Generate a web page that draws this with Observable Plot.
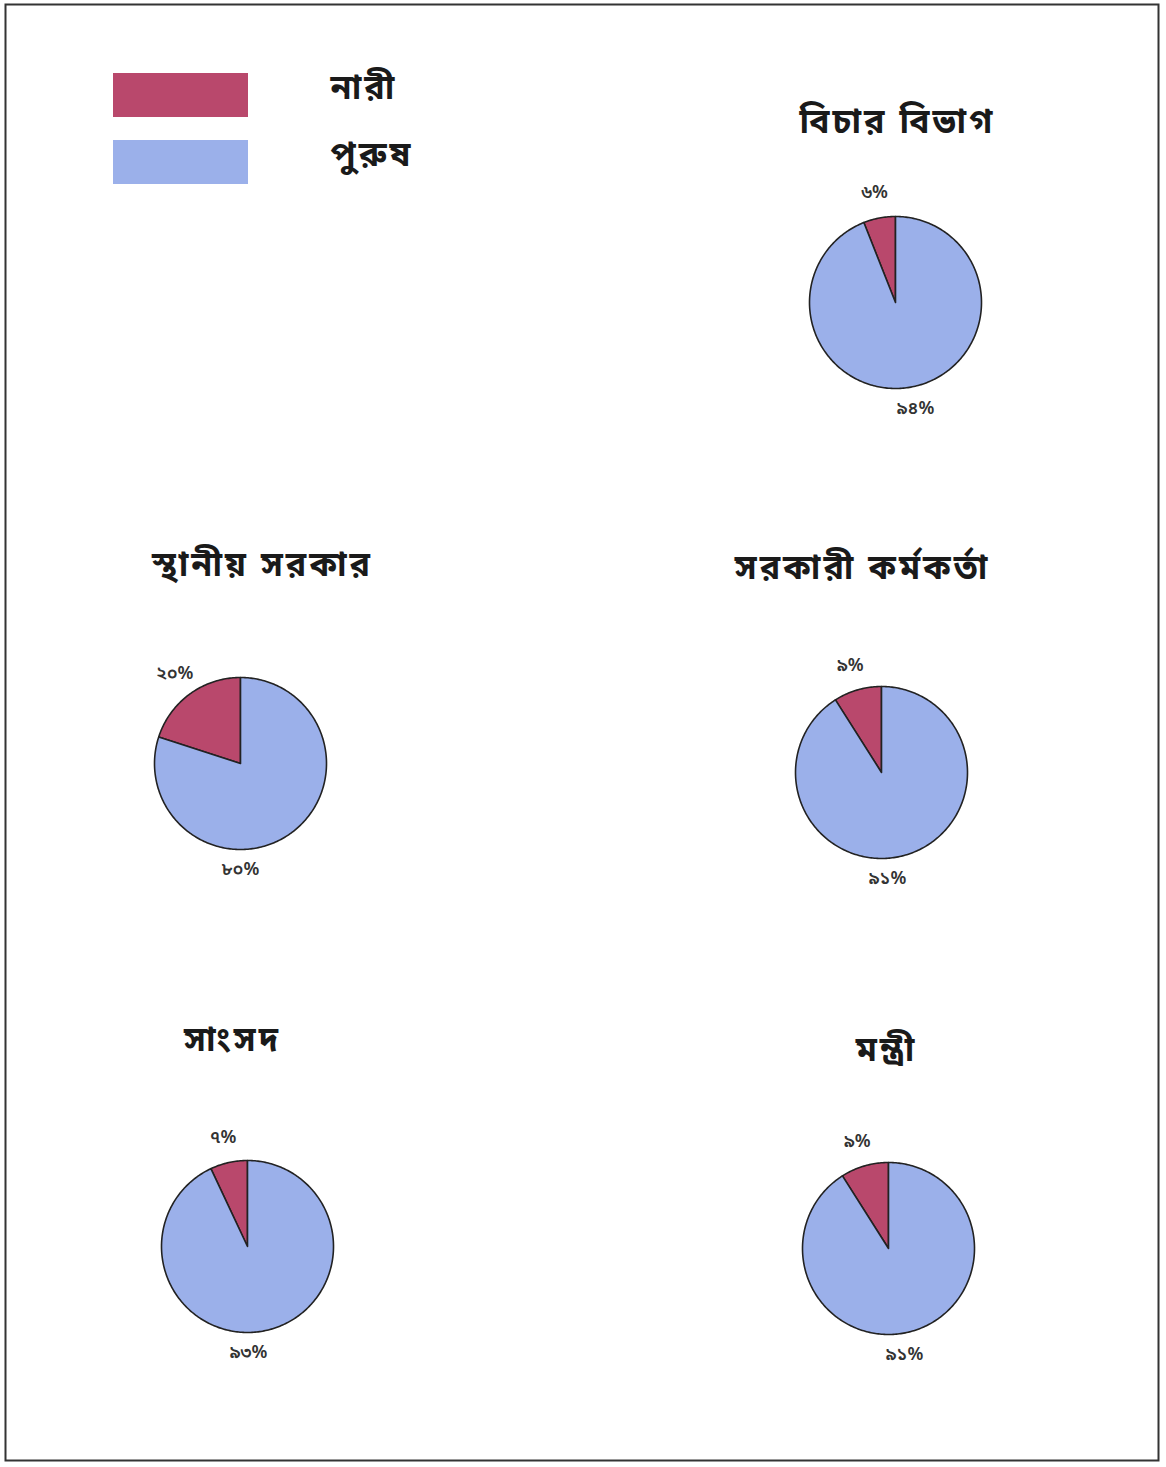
<!DOCTYPE html>
<html>
<head>
<meta charset="utf-8">
<script src="https://cdn.jsdelivr.net/npm/d3@7"></script>
<script src="https://cdn.jsdelivr.net/npm/@observablehq/plot@0.6"></script>
<style>
  html, body { margin: 0; padding: 0; background: #fff; }
  #chart svg { display: block; }
  .ttl text { letter-spacing: 3px; }
  .lgd text { letter-spacing: 3px; }
</style>
</head>
<body>
<div id="chart"></div>
<script>
// ---- data ----
const categories = ["বিচার বিভাগ", "স্থানীয় সরকার", "সরকারী কর্মকর্তা", "সাংসদ", "মন্ত্রী"];
const women = [6, 20, 9, 7, 9];
const men = [94, 80, 91, 93, 91];
const womenLabels = ["৬%", "২০%", "৯%", "৭%", "৯%"];
const menLabels = ["৯৪%", "৮০%", "৯১%", "৯৩%", "৯১%"];
const seriesNames = ["নারী", "পুরুষ"];
const seriesColors = ["#b9486c", "#9bb0ea"];

// ---- layout (page units = pixels) ----
const W = 1166, H = 1467, R = 86;
const layout = [
  {cx: 895, cy: 302, tx: 897, ty: 122, mdx: 20},
  {cx: 240, cy: 763, tx: 262, ty: 565, mdx: 0},
  {cx: 881, cy: 772, tx: 862, ty: 568, mdx: 6},
  {cx: 247, cy: 1246, tx: 232, ty: 1040, mdx: 1},
  {cx: 888, cy: 1248, tx: 886, ty: 1050, mdx: 16}
];
const legendLayout = [
  {x1: 113, x2: 248, y1: 73, y2: 117, tx: 330, ty: 88},
  {x1: 113, x2: 248, y1: 140, y2: 184, tx: 330, ty: 155}
];

// ---- build wedges ----
const wedgePts = [];
const labels = [];
categories.forEach((cat, i) => {
  const {cx, cy, mdx} = layout[i];
  const total = women[i] + men[i];
  const a = women[i] / total * 2 * Math.PI; // women angle, counterclockwise from 12 o'clock
  const slices = [
    {key: cat + "-w", s: seriesNames[0], t0: -a, t1: 0},
    {key: cat + "-m", s: seriesNames[1], t0: 0, t1: 2 * Math.PI - a}
  ];
  for (const sl of slices) {
    wedgePts.push({key: sl.key, s: sl.s, x: cx, y: cy});
    const n = Math.max(2, Math.ceil((sl.t1 - sl.t0) / (Math.PI / 180)));
    for (let k = 0; k <= n; k++) {
      const t = sl.t0 + (sl.t1 - sl.t0) * k / n;
      wedgePts.push({key: sl.key, s: sl.s, x: cx + R * Math.sin(t), y: cy - R * Math.cos(t)});
    }
    wedgePts.push({key: sl.key, s: sl.s, x: cx, y: cy});
  }
  const mw = -a / 2, rl = R + 26;
  labels.push({x: cx + rl * Math.sin(mw), y: cy - rl * Math.cos(mw), text: womenLabels[i]});
  labels.push({x: cx + mdx, y: cy + R + 20, text: menLabels[i]});
});

const titles = categories.map((c, i) => ({x: layout[i].tx, y: layout[i].ty, text: c}));
const legend = seriesNames.map((s, i) => ({...legendLayout[i], s}));

const font = "'Noto Sans Bengali', 'Noto Serif Bengali', 'Lohit Bengali', 'FreeSerif', 'Noto Sans', sans-serif";

const chart = Plot.plot({
  width: W,
  height: H,
  margin: 0,
  style: {background: "#fff", fontFamily: font},
  x: {domain: [0, W], range: [0, W], axis: null},
  y: {domain: [0, H], range: [0, H], axis: null},
  color: {domain: seriesNames, range: seriesColors},
  marks: [
    Plot.frame({stroke: "#333", strokeWidth: 2, insetLeft: 5, insetTop: 4, insetRight: 8, insetBottom: 7}),
    Plot.line(wedgePts, {x: "x", y: "y", z: "key", fill: "s", stroke: "#222", strokeWidth: 1.6, strokeLinejoin: "round", curve: "linear"}),
    Plot.text(labels, {x: "x", y: "y", text: "text", fontSize: 18, fill: "#333", fontWeight: 600}),
    Plot.text(titles, {x: "x", y: "y", text: "text", fontSize: 34, fill: "#1a1a1a", fontWeight: "bold", className: "ttl"}),
    Plot.rect(legend, {x1: "x1", x2: "x2", y1: "y1", y2: "y2", fill: "s"}),
    Plot.text(legend, {x: "tx", y: "ty", text: "s", textAnchor: "start", fontSize: 34, fill: "#1a1a1a", fontWeight: "bold", className: "lgd"})
  ]
});
document.getElementById("chart").appendChild(chart);
</script>
</body>
</html>
